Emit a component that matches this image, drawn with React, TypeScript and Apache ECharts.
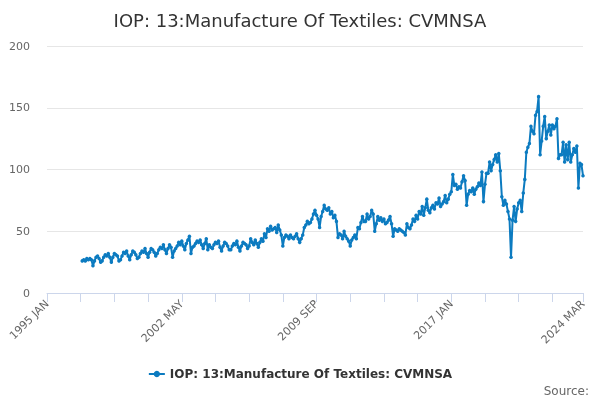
import { useEffect, useRef } from 'react';
import * as echarts from 'echarts';

const MONTHS = ['JAN', 'FEB', 'MAR', 'APR', 'MAY', 'JUN', 'JUL', 'AUG', 'SEP', 'OCT', 'NOV', 'DEC'];

// axis runs 1995 JAN .. 2024 MAR, monthly
const FIRST_YEAR = 1995;
const LAST_YEAR = 2024;
const LAST_MONTH = 3;

// series starts 1996 DEC
const SERIES_START = '1996 DEC';
const SERIES_NAME = 'IOP: 13:Manufacture Of Textiles: CVMNSA';

const textiles = [
  26,
  27, 26, 28, 27, 28, 27, 22, 26, 29, 30, 28, 25, // 1997
  26, 29, 31, 30, 32, 29, 25, 29, 32, 31, 30, 26, // 1998
  27, 30, 33, 32, 34, 30, 27, 31, 34, 33, 31, 28, // 1999
  29, 32, 34, 33, 36, 32, 29, 33, 36, 35, 33, 30, // 2000
  32, 35, 37, 36, 39, 35, 32, 36, 39, 37, 29, 34, // 2001
  36, 38, 41, 39, 42, 38, 35, 40, 43, 46, 32, 37, // 2002
  38, 40, 42, 41, 43, 39, 36, 40, 44, 35, 39, 37, // 2003
  36, 39, 41, 40, 42, 37, 34, 38, 41, 40, 38, 35, // 2004
  35, 38, 40, 39, 42, 37, 34, 38, 41, 40, 39, 36, // 2005
  38, 44, 41, 39, 43, 40, 37, 41, 44, 42, 48, 45, // 2006
  52, 50, 54, 51, 52, 53, 49, 55, 51, 47, 38, 45, // 2007
  47, 46, 44, 47, 45, 44, 46, 48, 44, 41, 44, 47, // 2008
  53, 55, 58, 56, 57, 60, 64, 67, 63, 60, 53, 62, // 2009
  66, 71, 68, 67, 69, 64, 66, 61, 63, 58, 45, 48, // 2010
  47, 44, 50, 46, 44, 42, 38, 43, 45, 47, 44, 53, // 2011
  52, 57, 62, 58, 58, 64, 60, 62, 67, 64, 50, 56, // 2012
  62, 59, 61, 58, 60, 56, 57, 59, 62, 56, 46, 52, // 2013
  51, 50, 52, 51, 50, 49, 47, 56, 53, 52, 55, 60, // 2014
  58, 63, 60, 66, 64, 70, 63, 69, 76, 67, 65, 69, // 2015
  71, 68, 73, 72, 77, 70, 72, 74, 79, 73, 76, 80, // 2016
  82, 96, 87, 88, 84, 86, 85, 90, 95, 91, 71, 80, // 2017
  83, 82, 85, 80, 84, 86, 89, 87, 98, 74, 88, 97, // 2018
  97, 106, 99, 104, 108, 112, 106, 113, 99, 78, 71, 75, // 2019
  72, 66, 60, 29, 59, 70, 58, 68, 73, 75, 66, 81, // 2020
  92, 114, 118, 121, 135, 131, 129, 144, 147, 159, 112, 123, // 2021
  135, 143, 125, 131, 136, 128, 136, 133, 135, 141, 109, 112, // 2022
  112, 122, 106, 120, 108, 122, 106, 112, 117, 114, 119, 85, // 2023
  105, 104, 95, // 2024
];

const yTicks = { min: 0, max: 200, interval: 50 };

const FONT = '"DejaVu Sans", Verdana, sans-serif';
const LINE_COLOR = '#0c7bc0';

export default function App() {
  const chartRef = useRef<HTMLDivElement>(null);

  useEffect(() => {
    if (!chartRef.current) return;
    const chart = echarts.init(chartRef.current, null, { renderer: 'svg' });

    const categories: string[] = [];
    for (let y = FIRST_YEAR; y <= LAST_YEAR; y++) {
      for (let m = 0; m < 12; m++) {
        if (y === LAST_YEAR && m >= LAST_MONTH) break;
        categories.push(`${y} ${MONTHS[m]}`);
      }
    }
    const last = categories.length - 1;
    const offset = categories.indexOf(SERIES_START);
    const seriesData: (number | null)[] = categories.map((_, i) =>
      i < offset ? null : textiles[i - offset] ?? null
    );

    chart.setOption({
      animation: false,
      textStyle: { fontFamily: FONT },
      title: {
        text: SERIES_NAME,
        left: 'center',
        top: 6,
        textStyle: { fontFamily: FONT, fontSize: 18, fontWeight: 'normal', color: '#333333' },
      },
      grid: { left: 47, right: 17, top: 46, bottom: 107, outerBoundsMode: 'none' },
      xAxis: {
        type: 'category',
        data: categories,
        boundaryGap: false,
        axisLine: { lineStyle: { color: '#ccd6eb' } },
        axisTick: {
          length: 9,
          lineStyle: { color: '#ccd6eb' },
          interval: (i: number) => i % 22 === 0 || i === last,
        },
        axisLabel: {
          rotate: 45,
          color: '#666666',
          fontSize: 11,
          fontFamily: FONT,
          margin: 9,
          interval: (i: number) => i % 88 === 0 || i === last,
        },
        splitLine: { show: false },
      },
      yAxis: {
        type: 'value',
        min: yTicks.min,
        max: yTicks.max,
        interval: yTicks.interval,
        axisLine: { show: false },
        axisTick: { show: false },
        axisLabel: { color: '#666666', fontSize: 11, fontFamily: FONT, margin: 17 },
        splitLine: { lineStyle: { color: '#e6e6e6' } },
      },
      legend: {
        bottom: 15,
        left: 'center',
        itemWidth: 16,
        itemHeight: 8,
        itemGap: 6,
        textStyle: { fontFamily: FONT, fontSize: 12, fontWeight: 'bold', color: '#333333' },
        data: [SERIES_NAME],
      },
      graphic: [
        {
          type: 'text',
          right: 11,
          bottom: 3,
          style: { text: 'Source:', fontFamily: FONT, fontSize: 12, fill: '#666666' },
        },
      ],
      series: [
        {
          name: SERIES_NAME,
          type: 'line',
          data: seriesData,
          symbol: 'circle',
          symbolSize: 3.5,
          showAllSymbol: true,
          connectNulls: false,
          color: LINE_COLOR,
          lineStyle: { width: 2, color: LINE_COLOR },
          itemStyle: { color: LINE_COLOR },
        },
      ],
    });

    return () => chart.dispose();
  }, []);

  return (
    <div
      ref={chartRef}
      style={{ position: 'fixed', left: 0, top: 0, width: 600, height: 400 }}
    />
  );
}
